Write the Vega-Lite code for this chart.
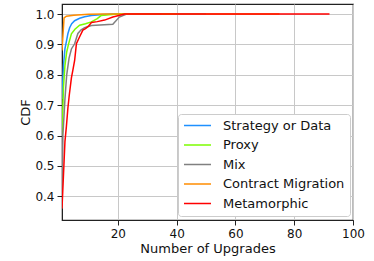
{
  "$schema": "https://vega.github.io/schema/vega-lite/v6.json",
  "autosize": "none",
  "width": 291,
  "height": 216,
  "padding": {"left": 62, "top": 4, "right": 21, "bottom": 41},
  "config": {
    "font": "DejaVu Sans",
    "view": {"stroke": "#222", "strokeWidth": 1.2},
    "axis": {
      "labelFont": "DejaVu Sans", "titleFont": "DejaVu Sans",
      "labelFontSize": 12, "titleFontSize": 13, "titleFontWeight": "normal",
      "labelColor": "#111", "titleColor": "#111",
      "domainColor": "#222", "tickColor": "#222", "tickSize": 5,
      "gridColor": "#c8c8c8", "gridWidth": 1
    }
  },
  "data": {"values": [
    {"s": "Strategy or Data", "x": 1, "y": 0.72},
    {"s": "Strategy or Data", "x": 1.5, "y": 0.83},
    {"s": "Strategy or Data", "x": 2, "y": 0.885},
    {"s": "Strategy or Data", "x": 2.5, "y": 0.91},
    {"s": "Strategy or Data", "x": 3, "y": 0.935},
    {"s": "Strategy or Data", "x": 3.6, "y": 0.955},
    {"s": "Strategy or Data", "x": 4.3, "y": 0.968},
    {"s": "Strategy or Data", "x": 5.3, "y": 0.978},
    {"s": "Strategy or Data", "x": 7, "y": 0.986},
    {"s": "Strategy or Data", "x": 8.7, "y": 0.991},
    {"s": "Strategy or Data", "x": 11, "y": 0.995},
    {"s": "Strategy or Data", "x": 14, "y": 0.998},
    {"s": "Strategy or Data", "x": 18, "y": 1.0},
    {"s": "Strategy or Data", "x": 50, "y": 1.0},
    {"s": "Proxy", "x": 1, "y": 0.6},
    {"s": "Proxy", "x": 1.5, "y": 0.76},
    {"s": "Proxy", "x": 2, "y": 0.83},
    {"s": "Proxy", "x": 2.6, "y": 0.875},
    {"s": "Proxy", "x": 3.2, "y": 0.9},
    {"s": "Proxy", "x": 4.2, "y": 0.935},
    {"s": "Proxy", "x": 5.4, "y": 0.95},
    {"s": "Proxy", "x": 7, "y": 0.963},
    {"s": "Proxy", "x": 9, "y": 0.968},
    {"s": "Proxy", "x": 11, "y": 0.974},
    {"s": "Proxy", "x": 13, "y": 0.985},
    {"s": "Proxy", "x": 14.3, "y": 0.995},
    {"s": "Proxy", "x": 17, "y": 0.998},
    {"s": "Proxy", "x": 20, "y": 1.0},
    {"s": "Proxy", "x": 40, "y": 1.0},
    {"s": "Mix", "x": 1, "y": 0.36},
    {"s": "Mix", "x": 1.3, "y": 0.6},
    {"s": "Mix", "x": 2, "y": 0.72},
    {"s": "Mix", "x": 2.6, "y": 0.8},
    {"s": "Mix", "x": 3.4, "y": 0.855},
    {"s": "Mix", "x": 4.2, "y": 0.885},
    {"s": "Mix", "x": 5.3, "y": 0.902},
    {"s": "Mix", "x": 6.4, "y": 0.936},
    {"s": "Mix", "x": 7.5, "y": 0.948},
    {"s": "Mix", "x": 8.7, "y": 0.955},
    {"s": "Mix", "x": 11, "y": 0.962},
    {"s": "Mix", "x": 18.3, "y": 0.966},
    {"s": "Mix", "x": 20.5, "y": 0.99},
    {"s": "Mix", "x": 23, "y": 1.0},
    {"s": "Mix", "x": 35, "y": 1.0},
    {"s": "Contract Migration", "x": 1, "y": 0.88},
    {"s": "Contract Migration", "x": 1.7, "y": 0.987},
    {"s": "Contract Migration", "x": 2.5, "y": 0.993},
    {"s": "Contract Migration", "x": 5, "y": 0.996},
    {"s": "Contract Migration", "x": 10, "y": 0.999},
    {"s": "Contract Migration", "x": 15, "y": 1.0},
    {"s": "Contract Migration", "x": 75, "y": 1.0},
    {"s": "Metamorphic", "x": 1, "y": 0.36},
    {"s": "Metamorphic", "x": 2, "y": 0.58},
    {"s": "Metamorphic", "x": 2.5, "y": 0.63},
    {"s": "Metamorphic", "x": 3, "y": 0.69},
    {"s": "Metamorphic", "x": 3.5, "y": 0.735},
    {"s": "Metamorphic", "x": 4.2, "y": 0.79},
    {"s": "Metamorphic", "x": 4.7, "y": 0.815},
    {"s": "Metamorphic", "x": 5.3, "y": 0.847},
    {"s": "Metamorphic", "x": 5.9, "y": 0.902},
    {"s": "Metamorphic", "x": 7, "y": 0.925},
    {"s": "Metamorphic", "x": 8.1, "y": 0.947},
    {"s": "Metamorphic", "x": 9, "y": 0.952},
    {"s": "Metamorphic", "x": 10, "y": 0.96},
    {"s": "Metamorphic", "x": 11, "y": 0.972},
    {"s": "Metamorphic", "x": 13, "y": 0.975},
    {"s": "Metamorphic", "x": 15.5, "y": 0.98},
    {"s": "Metamorphic", "x": 18.3, "y": 0.99},
    {"s": "Metamorphic", "x": 22.3, "y": 1.0},
    {"s": "Metamorphic", "x": 92, "y": 1.0}
  ]},
  "mark": {"type": "line", "strokeWidth": 1.5, "clip": true},
  "encoding": {
    "x": {
      "field": "x", "type": "quantitative",
      "scale": {"domain": [1, 100], "nice": false, "zero": false},
      "axis": {"title": "Number of Upgrades", "values": [20, 40, 60, 80, 100], "labelPadding": 3, "titlePadding": 3, "labelFlush": false}
    },
    "y": {
      "field": "y", "type": "quantitative",
      "scale": {"domain": [0.322, 1.033], "nice": false, "zero": false},
      "axis": {"title": "CDF", "values": [0.4, 0.5, 0.6, 0.7, 0.8, 0.9, 1.0], "format": ".1f", "labelPadding": 3, "titlePadding": 2, "labelFlush": false}
    },
    "color": {
      "field": "s", "type": "nominal",
      "scale": {
        "domain": ["Strategy or Data", "Proxy", "Mix", "Contract Migration", "Metamorphic"],
        "range": ["#1e90ff", "#7cfc00", "#808080", "#ff8c00", "#ff0000"]
      },
      "legend": {
        "title": null, "orient": "none", "legendX": 116, "legendY": 110,
        "symbolType": "stroke", "symbolSize": 729, "symbolStrokeWidth": 1.5,
        "clipHeight": 13,
        "labelFontSize": 13, "labelFont": "DejaVu Sans", "labelColor": "#111",
        "labelOffset": 11, "rowPadding": 5.5,
        "padding": 5, "fillColor": "white", "strokeColor": "#cccccc", "cornerRadius": 3
      }
    },
    "order": {"field": "x", "type": "quantitative"}
  }
}
